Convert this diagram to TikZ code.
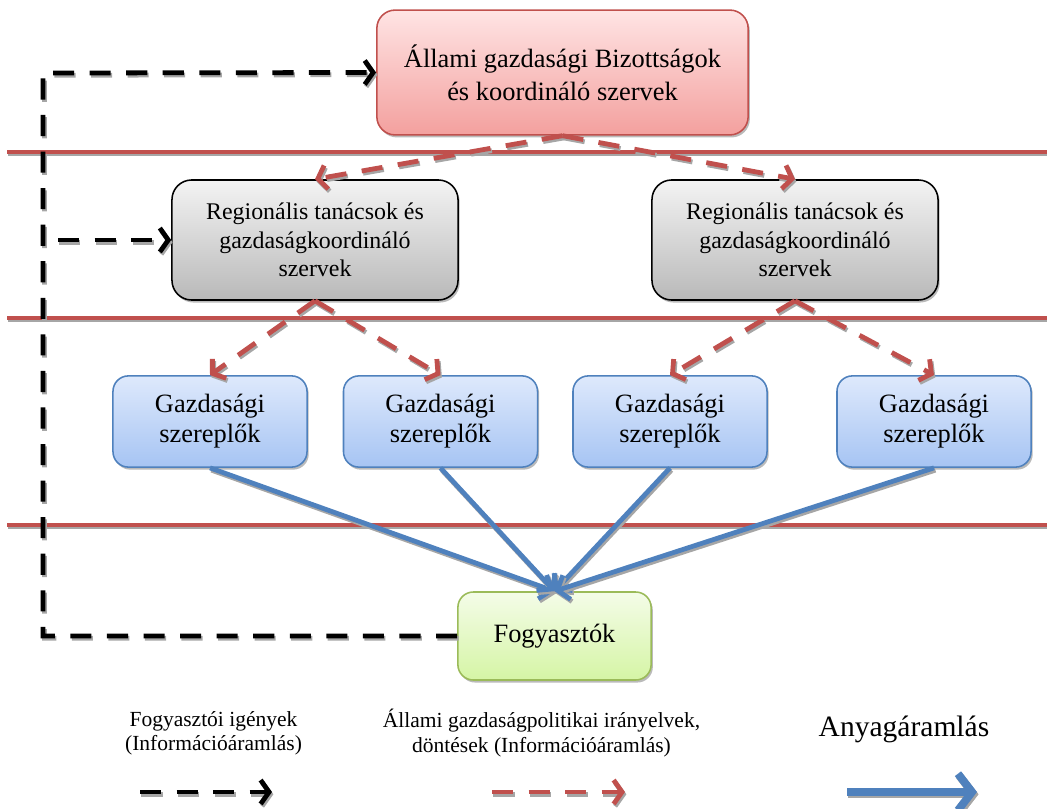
\documentclass[tikz,border=0pt]{standalone}
\usepackage{fontspec}
\setmainfont{Liberation Serif}
\newfontfamily\boxfont{Liberation Serif}
\usetikzlibrary{arrows.meta, positioning, shadows}
\definecolor{lanered}{RGB}{192, 80, 77}
\definecolor{flowblue}{RGB}{79, 129, 189}
\definecolor{consgreen}{RGB}{155, 187, 89}

\begin{document}
\begin{tikzpicture}[x=0.025cm, y=-0.025cm,
  boxshadow/.style={drop shadow={shadow xshift=1.2pt, shadow yshift=-1.8pt, opacity=0.45, fill=black!60}},
  solidshadow/.style={preaction={draw=black!35, line width=#1, transform canvas={xshift=1pt, yshift=-1.6pt}}},
  dashshadow/.style={preaction={draw=black!35, line width=3.4pt, dash pattern=on 15pt off 11pt, transform canvas={xshift=1pt, yshift=-1.6pt}}},
  statebox/.style={draw=lanered, line width=1.1pt, rounded corners=13pt, top color={rgb,255:red,255;green,228;blue,228}, bottom color={rgb,255:red,243;green,160;blue,158}, boxshadow, minimum width=9.28cm, minimum height=3.12cm, align=center, font=\boxfont\fontsize{18.8}{23.4}\selectfont},
  regbox/.style={draw=black, line width=1.1pt, rounded corners=14pt, top color={rgb,255:red,243;green,243;blue,243}, bottom color={rgb,255:red,185;green,185;blue,185}, boxshadow, minimum width=7.15cm, minimum height=3cm, align=center, font=\boxfont\fontsize{17}{20.3}\selectfont},
  actorbox/.style={draw=flowblue, line width=1.1pt, rounded corners=11pt, top color={rgb,255:red,222;green,233;blue,252}, bottom color={rgb,255:red,166;green,196;blue,243}, boxshadow, minimum width=4.85cm, minimum height=2.28cm, align=center, font=\boxfont\fontsize{18.8}{21.3}\selectfont},
  consbox/.style={draw=consgreen, line width=1.1pt, rounded corners=11pt, top color={rgb,255:red,244;green,252;blue,232}, bottom color={rgb,255:red,213;green,245;blue,165}, boxshadow, minimum width=4.83cm, minimum height=2.2cm, align=center, font=\boxfont\fontsize{18.8}{21.3}\selectfont},
  lane/.style={solidshadow=2.8pt, draw=lanered, line width=2.8pt},
  needflow/.style={dashshadow, draw=black, line width=3.4pt, dash pattern=on 15pt off 11pt, -{Straight Barb[length=6pt, width=17pt]}},
  policyflow/.style={dashshadow, draw=lanered, line width=3.4pt, dash pattern=on 15pt off 11pt, -{Straight Barb[length=6pt, width=17pt]}},
  goodsflow/.style={solidshadow=3.4pt, draw=flowblue, line width=3.4pt, -{Straight Barb[length=7pt, width=18pt]}},
  legtext/.style={align=center, font=\boxfont\fontsize{15.3}{17.2}\selectfont}
]
  \useasboundingbox (0,0) rectangle (1047,809);

  % lanes
  \draw[lane] (7,152) -- (1047,152);
  \draw[lane] (7,318) -- (1047,318);
  \draw[lane] (7,525) -- (1047,525);

  % boxes
  \node[statebox] (state) at (562.5,72.5) {Állami gazdasági Bizottságok\\és koordináló szervek};
  \node[regbox] (regL) at (315,240) {Regionális tanácsok és\\gazdaságkoordináló\\szervek};
  \node[regbox] (regR) at (795,240) {Regionális tanácsok és\\gazdaságkoordináló\\szervek};
  \node[actorbox] (act1) at (210,421.5) {Gazdasági\\szereplők};
  \node[actorbox] (act2) at (440.5,421.5) {Gazdasági\\szereplők};
  \node[actorbox] (act3) at (670,421.5) {Gazdasági\\szereplők};
  \node[actorbox] (act4) at (934,421.5) {Gazdasági\\szereplők};
  \node[consbox] (cons) at (554.5,636) {Fogyasztók};

  % policy (red dashed)
  \draw[policyflow] (state.south) -- (regL.north);
  \draw[policyflow] (state.south) -- (regR.north);
  \draw[policyflow] (regL.south) -- (act1.north);
  \draw[policyflow] (regL.south) -- (act2.north);
  \draw[policyflow] (regR.south) -- (act3.north);
  \draw[policyflow] (regR.south) -- (act4.north);

  % goods (blue)
  \foreach \a in {act1, act2, act3, act4}
    \draw[goodsflow] (\a.south) -- (cons.north);

  % consumer needs (black dashed)
  \coordinate (loop) at (43,73);
  \coordinate (branch) at (58,240);
  \draw[needflow] (cons.west) -| (loop) -- (state.west);
  \draw[needflow] (branch) -- (regL.west);

  % legend
  \node[legtext] (legNeed) at (213.5,733) {Fogyasztói igények\\(Információáramlás)};
  \node[legtext] (legPolicy) at (541.5,733) {Állami gazdaságpolitikai irányelvek,\\döntések (Információáramlás)};
  \node[font=\boxfont\fontsize{21}{25}\selectfont] (legGoods) at (904,729) {Anyagáramlás};
  \coordinate (n1) at (140,792);
  \coordinate (n2) at (272,792);
  \coordinate (p1) at (492,792);
  \coordinate (p2) at (625,792);
  \coordinate (g1) at (847,792);
  \coordinate (g2) at (977,792);
  \draw[needflow] (n1) -- (n2);
  \draw[policyflow] (p1) -- (p2);
  \draw[goodsflow, solidshadow=5.6pt, line width=5.6pt, -{Straight Barb[length=10pt, width=26pt]}] (g1) -- (g2);
\end{tikzpicture}
\end{document}
